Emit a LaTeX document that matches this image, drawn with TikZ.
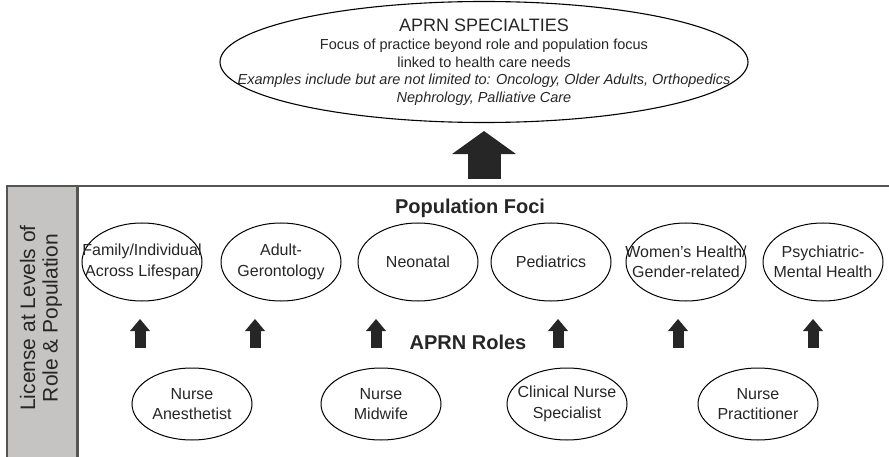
\documentclass[tikz,border=0pt]{standalone}
\usepackage{fontspec}
\setmainfont{Liberation Sans}
\usetikzlibrary{shapes.geometric,arrows.meta}
\definecolor{ink}{HTML}{262626}
\definecolor{frame}{HTML}{555555}
\definecolor{band}{HTML}{C6C4C2}

\begin{document}
\begin{tikzpicture}[x=1pt, y=-1pt,
    spec/.style={draw, line width=1.1pt, ellipse, minimum width=528pt, minimum height=121pt,
                 inner xsep=-80pt, inner ysep=-10pt, align=center, text=ink,
                 font=\fontsize{14.5}{17.5}\selectfont},
    foc/.style={draw, line width=1pt, ellipse, minimum width=120pt, minimum height=78pt,
                inner xsep=-20pt, inner ysep=0pt, align=center, text=ink,
                font=\fontsize{16}{20.5}\selectfont},
    role/.style={foc, minimum height=72pt},
    head/.style={font=\fontsize{20}{24}\selectfont\bfseries, text=ink},
    side/.style={align=center, text=ink, font=\fontsize{21}{22.5}\selectfont},
    uparr/.style={-{Triangle[width=20pt,length=12pt,line width=0pt]},
                  line width=11pt, ink},
    bigarr/.style={-{Triangle[width=64pt,length=23pt,line width=0pt]},
                   line width=33pt, ink},
]
\useasboundingbox (0,0) rectangle (889,457);

% Specialties on top
\node[spec] (spec) at (484,62)
    {{\fontsize{18}{20}\selectfont APRN SPECIALTIES}\\[1pt]
     Focus of practice beyond role and population focus\\
     linked to health care needs\\
     \textit{Examples include but are not limited to: Oncology, Older Adults, Orthopedics}\\
     \textit{Nephrology, Palliative Care}};

% Licensure frame with the grey side band
\fill[band] (7,186) rectangle (77,457);
\draw[frame, line width=2.5pt] (7,457) -- (7,186) -- (889,186);
\draw[frame, line width=3pt] (77,186) -- (77,457);
\node[side, rotate=90] (side) at (41,318) {License at Levels of\\Role \& Population};
\coordinate (boxtop) at (484,186);

\draw[bigarr, shorten <=7pt, shorten >=8pt] (boxtop) -- (spec.south);

% Population foci
\node[head] (foci) at (470,208) {Population Foci};
\node[foc] (fam)  at (142,262) {Family/Individual\\Across Lifespan};
\node[foc] (ger)  at (281,262) {Adult-\\Gerontology};
\node[foc] (neo)  at (418,262) {Neonatal};
\node[foc] (ped)  at (551,262) {Pediatrics};
\node[foc] (wom)  at (686,262) {Women's Health/\\Gender-related};
\node[foc] (psy)  at (823,262) {Psychiatric-\\Mental Health};

% APRN roles
\node[head] (roles) at (468,342) {APRN Roles};
\node[role] (cna) at (192,404) {Nurse\\Anesthetist};
\node[role] (cnm) at (381,404) {Nurse\\Midwife};
\node[role] (cns) at (567,404) {Clinical Nurse\\Specialist};
\node[role] (cnp) at (758,404) {Nurse\\Practitioner};

% Upward arrows between the rows
\foreach \x [count=\i] in {140,255,376,558,678,813} {
    \coordinate (lo\i) at (\x,348);
    \coordinate (hi\i) at (\x,319);
    \draw[uparr] (lo\i) -- (hi\i);
}

\end{tikzpicture}
\end{document}
